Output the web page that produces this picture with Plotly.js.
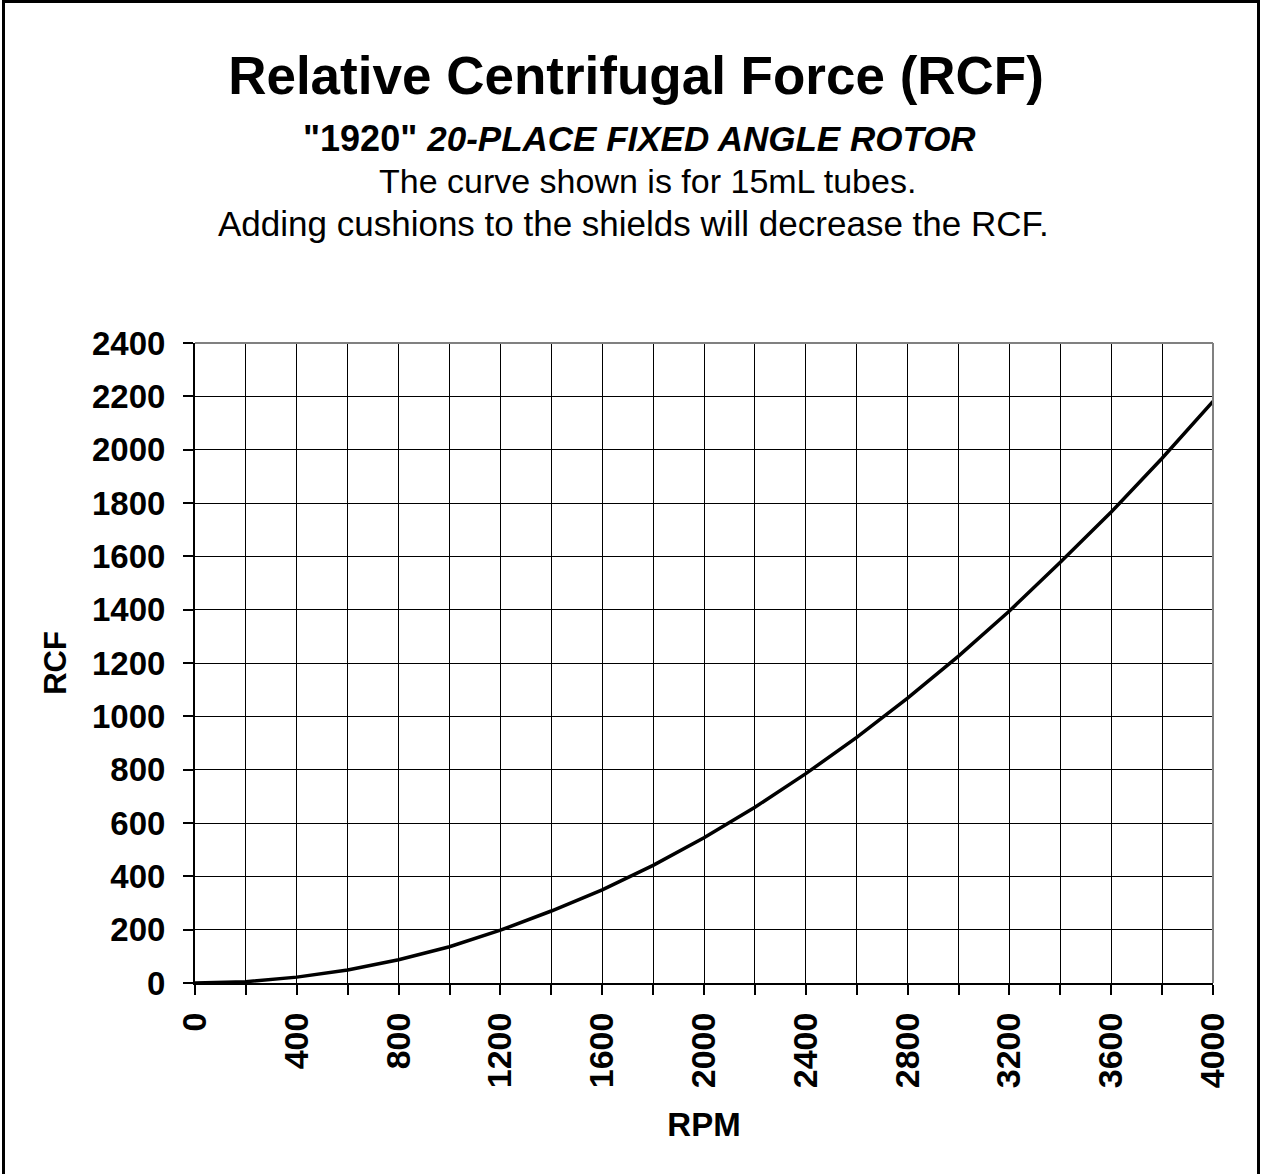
<!DOCTYPE html>
<html>
<head>
<meta charset="utf-8">
<script src="https://cdn.plot.ly/plotly-3.0.1.min.js"></script>
<style>
  html, body { margin: 0; padding: 0; overflow: hidden; background: #fff; }
  #chart { width: 1261px; height: 1174px; }
  #frame { position: absolute; left: 2px; top: 0; width: 1258px; height: 1174px; box-sizing: border-box;
           border: 3px solid #000; border-bottom: none; pointer-events: none; }
</style>
</head>
<body>
<div id="chart"></div>
<div id="frame"></div>
<script>
// Data
const rpm = [0, 200, 400, 600, 800, 1000, 1200, 1400, 1600, 1800, 2000,
             2200, 2400, 2600, 2800, 3000, 3200, 3400, 3600, 3800, 4000];
const rcf = [0, 5, 22, 49, 87, 136, 198, 270, 349, 441, 545,
             659, 785, 921, 1068, 1226, 1395, 1578, 1766, 1968, 2181];

const titleText = 'Relative Centrifugal Force (RCF)';
const modelText = '"1920"';
const rotorText = '20-PLACE FIXED ANGLE ROTOR';
const noteLine1 = 'The curve shown is for 15mL tubes.';
const noteLine2 = 'Adding cushions to the shields will decrease the RCF.';
const xTitle = 'RPM';
const yTitle = 'RCF';

const FONT = '"Liberation Sans", Arial, Helvetica, sans-serif';

const trace = {
  x: rpm, y: rcf, type: 'scatter', mode: 'lines',
  line: { color: '#000000', width: 3.5 },
  hoverinfo: 'x+y'
};

const axisCommon = {
  ticks: 'outside', ticklen: 10, tickwidth: 2, tickcolor: '#000',
  showline: true, linecolor: '#000', linewidth: 2,
  showgrid: true, gridcolor: '#000', gridwidth: 1,
  zeroline: false, fixedrange: true
};

const layout = {
  width: 1261, height: 1174,
  margin: { l: 195, r: 48, t: 343, b: 191, pad: 0 },
  paper_bgcolor: '#fff', plot_bgcolor: '#fff',
  showlegend: false,
  font: { family: FONT, color: '#000' },
  title: {
    text: titleText,
    font: { family: FONT, size: 53, color: '#000', weight: 'bold' },
    xref: 'container', yref: 'container',
    x: 636 / 1261, xanchor: 'center',
    y: 1 - 75 / 1174, yanchor: 'middle'
  },
  xaxis: Object.assign({}, axisCommon, {
    range: [0, 4000], tick0: 0, dtick: 400, tickangle: -90,
    ticklabelstandoff: 4,
    tickfont: { family: FONT, size: 34, color: '#000', weight: 'bold' },
    minor: { dtick: 200, ticks: 'outside', ticklen: 10, tickwidth: 2, tickcolor: '#000',
             showgrid: true, gridcolor: '#000', gridwidth: 1 },
    title: { text: xTitle, standoff: 26,
             font: { family: FONT, size: 33, color: '#000', weight: 'bold' } }
  }),
  yaxis: Object.assign({}, axisCommon, {
    range: [0, 2400], tick0: 0, dtick: 200,
    ticklabelstandoff: 11,
    tickfont: { family: FONT, size: 33, color: '#000', weight: 'bold' },
    title: { text: yTitle, standoff: 16,
             font: { family: FONT, size: 31, color: '#000', weight: 'bold' } }
  }),
  shapes: [
    { type: 'line', xref: 'paper', yref: 'paper', x0: 0, x1: 1, y0: 1, y1: 1,
      line: { color: '#808080', width: 2 }, layer: 'above' },
    { type: 'line', xref: 'paper', yref: 'paper', x0: 1, x1: 1, y0: 0, y1: 1,
      line: { color: '#808080', width: 2 }, layer: 'above' }
  ],
  annotations: [
    { xref: 'paper', yref: 'paper', x: (639 - 195) / 1018, y: (983 - 138) / 640,
      xanchor: 'center', yanchor: 'middle', showarrow: false,
      text: modelText + ' <span style="font-size:35px"><i>' + rotorText + '</i></span>',
      font: { family: FONT, size: 36, color: '#000', weight: 'bold' } },
    { xref: 'paper', yref: 'paper', x: (647 - 195) / 1018, y: (983 - 181) / 640,
      xanchor: 'center', yanchor: 'middle', showarrow: false,
      text: noteLine1, font: { family: FONT, size: 34, color: '#000' } },
    { xref: 'paper', yref: 'paper', x: (633 - 195) / 1018, y: (983 - 223) / 640,
      xanchor: 'center', yanchor: 'middle', showarrow: false,
      text: noteLine2, font: { family: FONT, size: 35, color: '#000' } }
  ]
};

Plotly.newPlot('chart', [trace], layout, { displayModeBar: false, staticPlot: true });
</script>
</body>
</html>
